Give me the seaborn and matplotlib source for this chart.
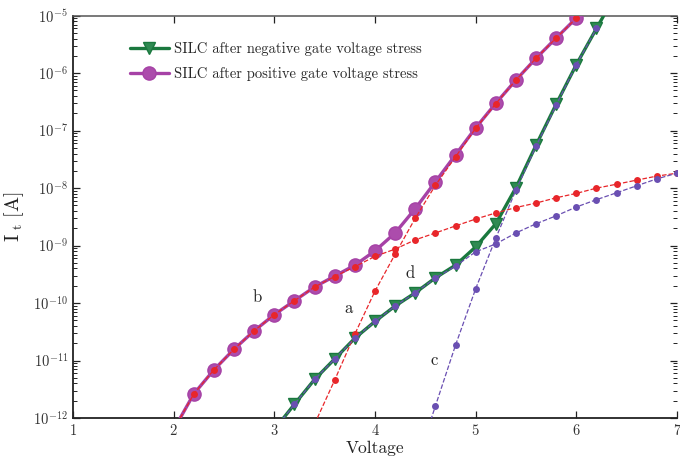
import numpy as np
import pandas as pd
import matplotlib
matplotlib.use("Agg")
import matplotlib.pyplot as plt
import seaborn as sns

# Gate voltage sweeps (V) and measured / fitted currents (A)
v_pos = [2.0, 2.2, 2.4, 2.6, 2.8, 3.0, 3.2, 3.4, 3.6, 3.8, 4.0,
         4.2, 4.4, 4.6, 4.8, 5.0, 5.2, 5.4, 5.6, 5.8, 6.0]
i_pos = [6.3e-13, 2.63e-12, 6.9e-12, 1.58e-11, 3.3e-11, 6.3e-11, 1.10e-10,
         1.91e-10, 2.95e-10, 4.57e-10, 8.1e-10, 1.66e-9, 4.4e-9, 1.29e-8,
         3.8e-8, 1.12e-7, 3.0e-7, 7.6e-7, 1.82e-6, 4.1e-6, 9.1e-6]

v_neg = [3.0, 3.2, 3.4, 3.6, 3.8, 4.0, 4.2, 4.4, 4.6, 4.8, 5.0,
         5.2, 5.4, 5.6, 5.8, 6.0, 6.2, 6.4]
i_neg = [6.3e-13, 1.74e-12, 4.7e-12, 1.07e-11, 2.45e-11, 4.8e-11, 8.9e-11,
         1.51e-10, 2.75e-10, 4.57e-10, 9.5e-10, 2.4e-9, 1.02e-8, 5.6e-8,
         2.9e-7, 1.41e-6, 6.0e-6, 2.5e-5]

# component a: steep branch of the positive-stress current
v_a = [3.4, 3.6, 3.8, 4.0, 4.2, 4.4, 4.6, 4.8, 5.0, 5.2, 5.4, 5.6, 5.8, 6.0]
i_a = [7.9e-13, 4.6e-12, 2.9e-11, 1.62e-10, 7.1e-10, 3.0e-9, 1.12e-8,
       3.5e-8, 1.10e-7, 2.95e-7, 7.6e-7, 1.82e-6, 4.1e-6, 9.1e-6]

# component b: slow branch of the positive-stress current
v_b = [2.0, 2.2, 2.4, 2.6, 2.8, 3.0, 3.2, 3.4, 3.6, 3.8, 4.0, 4.2, 4.4,
       4.6, 4.8, 5.0, 5.2, 5.4, 5.6, 5.8, 6.0, 6.2, 6.4, 6.6, 6.8, 7.0]
i_b = [6.3e-13, 2.63e-12, 6.9e-12, 1.58e-11, 3.3e-11, 6.3e-11, 1.10e-10,
       1.91e-10, 2.9e-10, 4.3e-10, 6.5e-10, 8.7e-10, 1.26e-9, 1.66e-9,
       2.2e-9, 2.9e-9, 3.7e-9, 4.6e-9, 5.5e-9, 6.8e-9, 8.1e-9, 1.0e-8,
       1.17e-8, 1.38e-8, 1.62e-8, 1.82e-8]

# component c: steep branch of the negative-stress current
v_c = [4.4, 4.6, 4.8, 5.0, 5.2, 5.4, 5.6, 5.8, 6.0, 6.2]
i_c = [1.4e-13, 1.62e-12, 1.86e-11, 1.78e-10, 1.35e-9, 9.3e-9, 5.4e-8,
       2.8e-7, 1.41e-6, 6.0e-6]

# component d: slow branch of the negative-stress current
v_d = [3.0, 3.2, 3.4, 3.6, 3.8, 4.0, 4.2, 4.4, 4.6, 4.8, 5.0, 5.2, 5.4,
       5.6, 5.8, 6.0, 6.2, 6.4, 6.6, 6.8, 7.0]
i_d = [6.3e-13, 1.74e-12, 4.7e-12, 1.07e-11, 2.45e-11, 4.8e-11, 8.9e-11,
       1.51e-10, 2.73e-10, 4.4e-10, 7.8e-10, 1.07e-9, 1.66e-9, 2.4e-9,
       3.3e-9, 4.7e-9, 6.3e-9, 8.3e-9, 1.10e-8, 1.45e-8, 1.82e-8]

legend_labels = ["SILC after negative gate voltage stress",
                 "SILC after positive gate voltage stress"]
curve_names = ["a", "b", "c", "d"]
name_pos = {"a": (3.74, 8.0e-11), "b": (2.83, 1.25e-10),
            "c": (4.59, 1.0e-11), "d": (4.35, 3.3e-10)}
x_ticks = [1, 2, 3, 4, 5, 6, 7]
y_ticks = [1e-12, 1e-11, 1e-10, 1e-9, 1e-8, 1e-7, 1e-6, 1e-5]

sns.set_theme(style="ticks")
plt.rcParams["font.family"] = ["cmr10", "DejaVu Serif"]
plt.rcParams["mathtext.fontset"] = "cm"
plt.rcParams["axes.formatter.use_mathtext"] = True
plt.rcParams["axes.unicode_minus"] = True

fig = plt.figure(figsize=(6.8, 4.57), dpi=100)
ax = fig.add_axes([0.1074, 0.0853, 0.8882, 0.8803])

green = "#1a783e"
green_face = "#2f8a52"
purple = "#a642a6"
purple_face = "#ac4cac"
red = "#e8262a"
violet = "#6a4fb2"

# measured currents
sns.lineplot(x=v_neg, y=i_neg, ax=ax, color=green, linewidth=2.4,
             marker="v", markersize=9, markerfacecolor=green_face,
             markeredgecolor=green, markeredgewidth=1.0,
             errorbar=None, label=legend_labels[0], zorder=3)
sns.lineplot(x=v_pos, y=i_pos, ax=ax, color=purple, linewidth=2.4,
             marker="o", markersize=9.5, markerfacecolor=purple_face,
             markeredgecolor=purple, markeredgewidth=1.0,
             errorbar=None, label=legend_labels[1], zorder=3)

# fitted components
for vx, iy, col in [(v_a, i_a, red), (v_b, i_b, red),
                    (v_c, i_c, violet), (v_d, i_d, violet)]:
    sns.lineplot(x=vx, y=iy, ax=ax, color=col, linewidth=0.9,
                 linestyle="--", marker="o", markersize=5,
                 markeredgewidth=0, errorbar=None, zorder=4)

for name in curve_names:
    x0, y0 = name_pos[name]
    ax.text(x0, y0, name, fontsize=12, color="#222222",
            ha="center", va="center")

ax.set_yscale("log")
ax.set_xlim(1, 7)
ax.set_ylim(1e-12, 1e-5)
ax.set_xticks(x_ticks)
ax.yaxis.set_major_locator(matplotlib.ticker.FixedLocator(y_ticks))
ax.yaxis.set_major_formatter(matplotlib.ticker.LogFormatterSciNotation())
minor = [m * t for t in y_ticks[:-1] for m in range(2, 10)]
ax.yaxis.set_minor_locator(matplotlib.ticker.FixedLocator(minor))
ax.yaxis.set_minor_formatter(matplotlib.ticker.NullFormatter())

ax.set_xlabel("Voltage", fontsize=12.5, color="#222222", labelpad=2)
ax.set_ylabel(r"$\mathrm{I}_{\ \mathrm{t}}\ \mathrm{[A]}$", fontsize=14.5,
              color="#222222", labelpad=5)

ax.tick_params(which="both", direction="in", top=True, right=True,
               colors="#222222", labelsize=10.5, labelcolor="#333333")
ax.tick_params(which="major", length=5, width=0.9)
ax.tick_params(which="minor", length=3, width=0.7)

for side in ["left", "bottom"]:
    ax.spines[side].set_color("#222222")
    ax.spines[side].set_linewidth(1.3)
ax.spines["top"].set_color("#555555")
ax.spines["top"].set_linewidth(1.1)
ax.spines["right"].set_visible(False)

handles, labels = ax.get_legend_handles_labels()
ax.legend(handles[:2], labels[:2], loc="upper left",
          bbox_to_anchor=(0.094, 0.935), frameon=False, fontsize=10.5,
          borderpad=0, borderaxespad=0, handlelength=2.7,
          handletextpad=0.35, labelspacing=0.75)

fig.savefig("out.png", dpi=100)
